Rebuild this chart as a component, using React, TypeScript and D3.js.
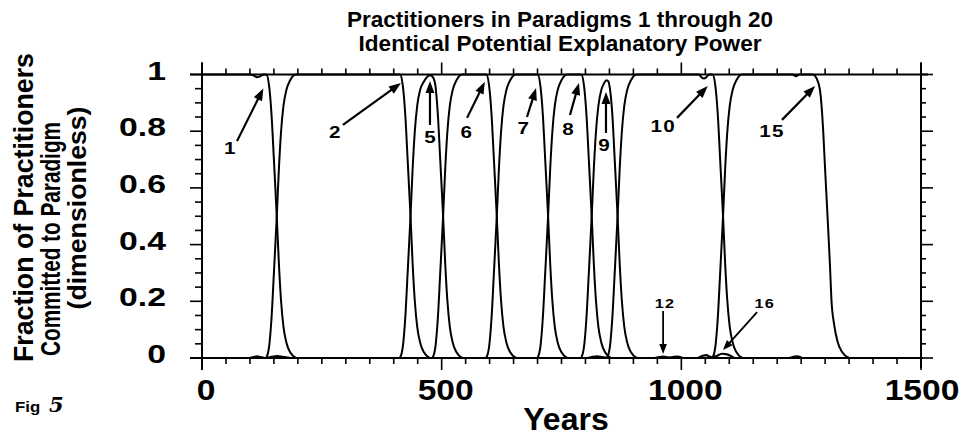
import React from "react";
import * as d3 from "d3";

const W = 963;
const H = 436;

// ---------- data ----------
const xDomain: [number, number] = [0, 1500];
const yDomain: [number, number] = [0, 1];
const xMajorTicks = [0, 500, 1000, 1500];
const xTickLabels = ["0", "500", "1000", "1500"];
const yMajorTicks = [0, 0.2, 0.4, 0.6, 0.8, 1];
const yTickLabels = ["0", "0.2", "0.4", "0.6", "0.8", "1"];

const titleLines = [
  "Practitioners in Paradigms 1 through 20",
  "Identical Potential Explanatory Power",
];
const yTitleLines = ["Fraction of Practitioners", "Committed to Paradigm", "(dimensionless)"];
const xTitle = "Years";

// dominant paradigms: [year, fraction]
const paradigm1: [number, number][] = [
  [0, 1], [100, 1], [108, 0.996], [115, 0.99], [122, 0.994], [128, 1], [134, 1],
  [140, 0.96], [145, 0.86], [150, 0.7], [156, 0.5], [160.5, 0.33], [165, 0.2],
  [170, 0.11], [176, 0.055], [184, 0.02], [196, 0],
];
const paradigm2: [number, number][] = [
  [134, 0], [140, 0.04], [145, 0.14], [150, 0.3], [156, 0.5], [160.5, 0.67], [165, 0.8],
  [170, 0.89], [176, 0.945], [184, 0.98], [196, 1], [413, 1],
  [419, 0.96], [424, 0.86], [429, 0.7], [435, 0.5], [439.5, 0.33], [444, 0.2],
  [449, 0.11], [455, 0.055], [463, 0.02], [475, 0],
];
const paradigm5: [number, number][] = [
  [413, 0], [419, 0.04], [424, 0.14], [429, 0.3], [435, 0.5], [439.5, 0.67], [444, 0.8],
  [449, 0.89], [455, 0.945], [463, 0.975], [470, 0.992], [476, 0.997], [482, 0.99],
  [487, 0.96], [492, 0.86], [497, 0.7], [503, 0.5], [507.5, 0.33], [512, 0.2],
  [517, 0.11], [523, 0.055], [531, 0.02], [543, 0],
];
const paradigm6: [number, number][] = [
  [481, 0], [487, 0.04], [492, 0.14], [497, 0.3], [503, 0.5], [507.5, 0.67], [512, 0.8],
  [517, 0.89], [523, 0.945], [531, 0.98], [543, 1], [593, 1],
  [599, 0.96], [604, 0.86], [609, 0.7], [615, 0.5], [619.5, 0.33], [624, 0.2],
  [629, 0.11], [635, 0.055], [643, 0.02], [655, 0],
];
const paradigm7: [number, number][] = [
  [593, 0], [599, 0.04], [604, 0.14], [609, 0.3], [615, 0.5], [619.5, 0.67], [624, 0.8],
  [629, 0.89], [635, 0.945], [643, 0.98], [655, 1], [700, 1],
  [706, 0.96], [711, 0.86], [716, 0.7], [722, 0.5], [726.5, 0.33], [731, 0.2],
  [736, 0.11], [742, 0.055], [750, 0.02], [762, 0],
];
const paradigm8: [number, number][] = [
  [700, 0], [706, 0.04], [711, 0.14], [716, 0.3], [722, 0.5], [726.5, 0.67], [731, 0.8],
  [736, 0.89], [742, 0.945], [750, 0.98], [762, 1], [791, 1],
  [797, 0.96], [802, 0.86], [807, 0.7], [813, 0.5], [817.5, 0.33], [822, 0.2],
  [827, 0.11], [833, 0.055], [841, 0.02], [853, 0],
];
const paradigm9: [number, number][] = [
  [791, 0], [797, 0.04], [802, 0.14], [807, 0.3], [813, 0.5], [817.5, 0.67], [822, 0.8],
  [827, 0.89], [833, 0.945], [839, 0.97], [844, 0.98], [848, 0.975],
  [851, 0.95], [856, 0.86], [861, 0.7], [867, 0.5], [871.5, 0.33], [876, 0.2],
  [881, 0.11], [887, 0.055], [895, 0.02], [907, 0],
];
const paradigm10: [number, number][] = [
  [845, 0], [851, 0.04], [856, 0.14], [861, 0.3], [867, 0.5], [871.5, 0.67], [876, 0.8],
  [881, 0.89], [887, 0.945], [895, 0.98], [907, 1], [1036, 1], [1042, 0.99],
  [1047, 0.986], [1052, 0.99], [1058, 1], [1065, 1],
  [1071, 0.96], [1076, 0.86], [1081, 0.7], [1087, 0.5], [1091.5, 0.33], [1096, 0.2],
  [1101, 0.11], [1107, 0.055], [1115, 0.02], [1127, 0],
];
const paradigm15: [number, number][] = [
  [1065, 0], [1071, 0.04], [1076, 0.14], [1081, 0.3], [1087, 0.5], [1091.5, 0.67],
  [1096, 0.8], [1101, 0.89], [1107, 0.945], [1115, 0.98], [1127, 1], [1232, 1],
  [1239, 0.994], [1246, 1], [1274, 1],
  [1285, 0.975], [1291, 0.92], [1296, 0.8], [1299.5, 0.68], [1305, 0.5], [1310, 0.33],
  [1313, 0.21], [1319, 0.116], [1326, 0.057], [1335, 0.022], [1350, 0],
];

// minor paradigms (small bumps near zero)
const paradigm3: [number, number][] = [[100, 0], [108, 0.003], [115, 0.006], [122, 0.003], [130, 0]];
const paradigm4: [number, number][] = [[135, 0], [145, 0.004], [158, 0.007], [168, 0.004], [185, 0]];
const paradigm11: [number, number][] = [[805, 0], [815, 0.004], [825, 0.006], [835, 0.003], [850, 0]];
const paradigm12: [number, number][] = [[945, 0], [955, 0.003], [963, 0.005], [972, 0.002], [985, 0]];
const paradigm13: [number, number][] = [[975, 0], [985, 0.004], [993, 0.005], [1003, 0]];
const paradigm14: [number, number][] = [[1035, 0], [1045, 0.008], [1052, 0.01], [1060, 0.004], [1070, 0]];
const paradigm16: [number, number][] = [[1060, 0], [1072, 0.006], [1085, 0.015], [1097, 0.012], [1110, 0]];
const paradigm17: [number, number][] = [[1225, 0], [1235, 0.004], [1242, 0.006], [1252, 0]];

const dominantSeries = [paradigm1, paradigm2, paradigm5, paradigm6, paradigm7, paradigm8, paradigm9, paradigm10, paradigm15];
const minorSeries = [paradigm3, paradigm4, paradigm11, paradigm12, paradigm13, paradigm14, paradigm16, paradigm17];

// annotation labels: label, text anchor (year, value), arrow tail, arrow tip
const annLabels = ["1", "2", "5", "6", "7", "8", "9", "10", "15", "12", "16"];
const annText: [number, number][] = [
  [58, 0.741], [277, 0.797], [475.6, 0.78], [551, 0.797], [670, 0.811], [763.5, 0.808],
  [838.7, 0.751], [962, 0.818], [1189, 0.8], [966, 0.194], [1174, 0.194],
];
const annTail: [number, number][] = [
  [73, 0.765], [294, 0.822], [475.6, 0.822], [553, 0.847], [678, 0.85], [767.7, 0.857],
  [842.8, 0.794], [991, 0.847], [1210, 0.84], [962, 0.166], [1158, 0.162],
];
const annTip: [number, number][] = [
  [128, 0.951], [415, 0.97], [475.6, 0.977], [590, 0.974], [697, 0.952], [786.5, 0.97],
  [842.8, 0.938], [1055, 0.959], [1279, 0.959], [962, 0.014], [1087, 0.028],
];
const annSmall = [false, false, false, false, false, false, false, false, false, true, true];

// ---------- chart ----------
const FONT = "'Liberation Sans', Arial, Helvetica, sans-serif";

export default function App() {
  const x = d3.scaleLinear().domain(xDomain).range([202, 921]);
  const y = d3.scaleLinear().domain(yDomain).range([358, 74.5]);

  const line = d3
    .line<[number, number]>()
    .x((d) => x(d[0]))
    .y((d) => y(d[1]))
    .curve(d3.curveMonotoneX);

  const xMinor = d3.range(0, 1501, 50);
  const yMinor = d3.range(0, 21).map((i) => i / 20);

  const axisW = 2;
  const left = x(0), right = x(1500), top = y(1), bottom = y(0);

  return (
    <svg
      width={W}
      height={H}
      viewBox={`0 0 ${W} ${H}`}
      style={{ position: "absolute", left: 0, top: 0, background: "#fff" }}
    >
      <rect x={0} y={0} width={W} height={H} fill="#fff" />

      {/* title */}
      {titleLines.map((t, i) => (
        <text
          key={t}
          x={560}
          y={27 + i * 24}
          textAnchor="middle"
          fontFamily={FONT}
          fontWeight="bold"
          fontSize={22.5}
          textLength={i === 0 ? 426 : 403}
          lengthAdjust="spacingAndGlyphs"
          fill="#000"
        >
          {t}
        </text>
      ))}

      {/* y title */}
      {yTitleLines.map((t, i) => {
        const bx = [33, 60, 86][i];
        const cy = [207.5, 239, 208][i];
        const len = [309, 234, 203][i];
        const fs = [25, 24.5, 24][i];
        return (
          <text
            key={t}
            transform={`translate(${bx},${cy}) scale(1.1,1) rotate(-90)`}
            textAnchor="middle"
            fontFamily={FONT}
            fontWeight="bold"
            fontSize={fs}
            textLength={len}
            lengthAdjust="spacingAndGlyphs"
            fill="#000"
          >
            {t}
          </text>
        );
      })}

      {/* y tick labels */}
      {yMajorTicks.map((v, i) => (
        <text
          key={"yl" + v}
          transform={`translate(166,${y(v) + 5}) scale(1.35,1)`}
          textAnchor="end"
          fontFamily={FONT}
          fontWeight="bold"
          fontSize={25}
          fill="#000"
        >
          {yTickLabels[i]}
        </text>
      ))}

      {/* x tick labels */}
      {xMajorTicks.map((v, i) => (
        <text
          key={"xl" + v}
          transform={`translate(${x(v) + (v === 1500 ? 1 : 4)},399.5) scale(1.12,1)`}
          textAnchor="middle"
          fontFamily={FONT}
          fontWeight="bold"
          fontSize={30}
          fill="#000"
        >
          {xTickLabels[i]}
        </text>
      ))}

      {/* x title */}
      <text x={566} y={430} textAnchor="middle" fontFamily={FONT} fontWeight="bold" fontSize={32} fill="#000">
        {xTitle}
      </text>

      {/* Fig 5 */}
      <text transform="translate(15,412) scale(1.2,1)" fontFamily={FONT} fontWeight="bold" fontSize={14} fill="#000">
        Fig
      </text>
      <text x={49} y={412} fontFamily="'DejaVu Serif', serif" fontStyle="italic" fontWeight="bold" fontSize={21} fill="#000">
        5
      </text>

      {/* frame */}
      <g stroke="#000" strokeWidth={axisW} fill="none">
        <line x1={left - 12} x2={right + 7} y1={top} y2={top} />
        <line x1={left - 12} x2={right + 2} y1={bottom} y2={bottom} />
        <line x1={left} x2={left} y1={top - 12} y2={bottom + 12} />
        <line x1={right} x2={right} y1={top - 12} y2={bottom + 10} />
        {/* x ticks */}
        {xMinor.map((v) => {
          const major = v % 500 === 0;
          const L = major ? 12 : 6;
          return (
            <g key={"xt" + v}>
              <line x1={x(v)} x2={x(v)} y1={bottom} y2={bottom + L} strokeWidth={1.6} />
              <line x1={x(v)} x2={x(v)} y1={top} y2={top - L} strokeWidth={1.6} />
            </g>
          );
        })}
        {/* y ticks */}
        {yMinor.map((v, i) => {
          const major = i % 4 === 0;
          const L = major ? 12 : 7;
          return (
            <g key={"yt" + i}>
              <line x1={left} x2={left - L} y1={y(v)} y2={y(v)} strokeWidth={1.6} />
              <line x1={right} x2={right + (major ? 12 : 5)} y1={y(v)} y2={y(v)} strokeWidth={1.6} />
            </g>
          );
        })}
      </g>

      {/* curves */}
      <g fill="none" stroke="#000" strokeWidth={2} strokeLinejoin="round">
        {minorSeries.map((s, i) => (
          <path key={"m" + i} d={line(s) || ""} strokeWidth={2.2} />
        ))}
        {dominantSeries.map((s, i) => (
          <path key={"d" + i} d={line(s) || ""} />
        ))}
      </g>

      {/* annotations */}
      {annLabels.map((lab, i) => {
        const [tx, tv] = annText[i];
        const [fx, fv] = annTail[i];
        const [hx, hv] = annTip[i];
        const x1 = x(fx), y1 = y(fv), x2 = x(hx), y2 = y(hv);
        const dx = x2 - x1, dy = y2 - y1;
        const len = Math.hypot(dx, dy);
        const ux = dx / len, uy = dy / len;
        const small = annSmall[i];
        const hl = small ? 10 : 12;
        const hw = small ? 3.8 : 4.5;
        const bx = x2 - ux * hl, by = y2 - uy * hl;
        const px = -uy, py = ux;
        const fs = small ? 13 : 16.5;
        return (
          <g key={"a" + i}>
            <line x1={x1} y1={y1} x2={bx + ux * 2} y2={by + uy * 2} stroke="#000" strokeWidth={small ? 1.8 : 2.2} />
            <path
              d={`M${x2},${y2}L${bx + px * hw},${by + py * hw}L${bx - px * hw},${by - py * hw}Z`}
              fill="#000"
            />
            <text
              transform={`translate(${x(tx)},${y(tv) + fs * 0.36}) scale(1.25,1)`}
              textAnchor="middle"
              fontFamily={FONT}
              fontWeight="bold"
              fontSize={fs}
              letterSpacing={lab.length > 1 ? 1 : 0}
              fill="#000"
            >
              {lab}
            </text>
          </g>
        );
      })}
    </svg>
  );
}
